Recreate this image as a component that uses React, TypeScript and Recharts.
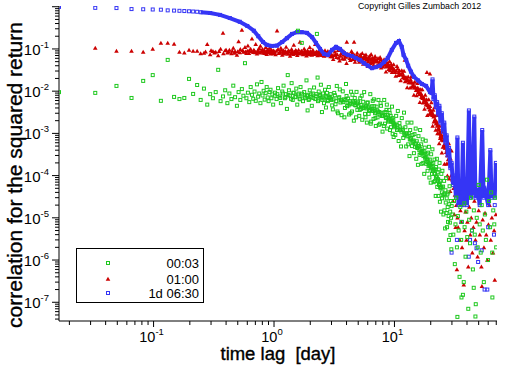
import React from "react";
import { ScatterChart, Scatter, XAxis, YAxis } from "recharts";

type Pt = [number, number];

// lag [day] vs correlation
const greenPts: Pt[] = [
  [0.0164, 0.0095], [0.0328, 0.0091], [0.0492, 0.0133], [0.0656, 0.0069], [0.082, 0.0175], [0.0984, 0.024],
  [0.115, 0.0059], [0.131, 0.055], [0.148, 0.0073], [0.164, 0.0065], [0.18, 0.0069], [0.197, 0.0195],
  [0.213, 0.0086], [0.23, 0.014],
  [0.246, 0.0062], [0.262, 0.0115], [0.279, 0.0048], [0.295, 0.0085], [0.311, 0.0068], [0.328, 0.0095],
  [0.344, 0.032], [0.36, 0.0058], [0.377, 0.0075], [0.393, 0.0105], [0.41, 0.0052], [0.426, 0.0088],
  [0.443, 0.0065], [0.459, 0.0135], [0.475, 0.0072], [0.492, 0.0045], [0.508, 0.0095], [0.525, 0.0062],
  [0.541, 0.0112], [0.557, 0.0078], [0.574, 0.046], [0.59, 0.0068], [0.607, 0.0092], [0.623, 0.0055],
  [0.64, 0.0125], [0.656, 0.0082], [0.672, 0.0066], [0.689, 0.0098], [0.705, 0.0059], [0.722, 0.0145],
  [0.738, 0.0074], [0.754, 0.0088], [0.771, 0.0052], [0.787, 0.0165], [0.803, 0.0079], [0.82, 0.0102],
  [0.836, 0.0063], [0.853, 0.0091], [0.869, 0.0125], [0.886, 0.0071], [0.902, 0.0058], [0.918, 0.0095],
  [0.935, 0.0108], [0.951, 0.0068], [0.968, 0.0084], [0.984, 0.0048],
  [1.02, 0.0092], [1.05, 0.0065], [1.08, 0.0118], [1.11, 0.0075], [1.14, 0.0052], [1.17, 0.0098],
  [1.2, 0.0135], [1.23, 0.0068], [1.26, 0.0085], [1.28, 0.0038], [1.3, 0.024], [1.33, 0.0105],
  [1.36, 0.0078], [1.4, 0.0155], [1.43, 0.0062], [1.46, 0.0092], [1.5, 0.0072], [1.53, 0.0115],
  [1.56, 0.0048], [1.58, 0.27], [1.6, 0.0088], [1.63, 0.0066], [1.66, 0.0125], [1.7, 0.139], [1.72, 0.0079],
  [1.74, 0.0058], [1.78, 0.0095], [1.82, 0.0068], [1.86, 0.018], [1.9, 0.0035], [1.92, 0.0082], [1.94, 0.0062],
  [1.98, 0.0105], [2.02, 0.0072], [2.06, 0.0045], [2.1, 0.0088], [2.15, 0.0122], [2.2, 0.0065], [2.25, 0.0085],
  [2.27, 0.227], [2.3, 0.021], [2.32, 0.0058], [2.35, 0.0098], [2.4, 0.0076], [2.45, 0.0142], [2.5, 0.0032],
  [2.52, 0.0062], [2.55, 0.0088], [2.6, 0.0052], [2.65, 0.0108], [2.7, 0.0041], [2.72, 0.0072], [2.75, 0.0091],
  [2.8, 0.0058], [2.85, 0.0125], [2.9, 0.0069], [2.95, 0.0085],
  [1.015, 0.0078], [1.065, 0.0085], [1.125, 0.0069], [1.185, 0.0088], [1.245, 0.0072], [1.315, 0.0081],
  [1.385, 0.0066], [1.445, 0.0091], [1.515, 0.0074], [1.585, 0.0083], [1.65, 0.0064], [1.71, 0.0087],
  [1.8, 0.0071], [1.88, 0.0078], [1.96, 0.0066], [2.04, 0.0084], [2.12, 0.0069], [2.22, 0.0076],
  [2.34, 0.0063], [2.42, 0.0081], [2.48, 0.0071], [2.58, 0.0067], [2.68, 0.0078], [2.78, 0.0062],
  [2.88, 0.0074], [2.98, 0.0066],
  [3.0, 0.0062], [3.04, 0.0046], [3.08, 0.0037], [3.16, 0.0091], [3.2, 0.008], [3.24, 0.0049], [3.32, 0.0133],
  [3.36, 0.0033], [3.4, 0.003], [3.48, 0.0072], [3.52, 0.011], [3.56, 0.0054], [3.64, 0.0027], [3.68, 0.006],
  [3.72, 0.0099], [3.8, 0.0064], [3.84, 0.0024], [3.88, 0.004], [3.96, 0.0148], [4.0, 0.0077], [4.04, 0.0044],
  [4.12, 0.0067], [4.16, 0.0046], [4.2, 0.0028], [4.28, 0.0051], [4.32, 0.003], [4.36, 0.0097], [4.44, 0.0033],
  [4.48, 0.0082], [4.52, 0.0058], [4.6, 0.002], [4.64, 0.0054], [4.68, 0.0069], [4.76, 0.0046], [4.8, 0.0024],
  [4.84, 0.0096], [4.92, 0.0036], [4.96, 0.0057], [5.0, 0.0054], [5.1, 0.0026], [5.15, 0.0036], [5.2, 0.0068],
  [5.3, 0.0038], [5.35, 0.0078], [5.4, 0.0021], [5.5, 0.0056], [5.55, 0.004], [5.6, 0.0095], [5.7, 0.0029],
  [5.75, 0.0024], [5.8, 0.0043], [5.9, 0.0018], [5.95, 0.0053], [6.0, 0.0054], [6.1, 0.0029], [6.15, 0.0034],
  [6.2, 0.0043], [6.3, 0.0085], [6.35, 0.0017], [6.4, 0.0019], [6.5, 0.0035], [6.55, 0.0044], [6.6, 0.0059],
  [6.7, 0.0022], [6.75, 0.0064], [6.8, 0.0044], [6.9, 0.003], [6.95, 0.0023], [7.0, 0.0015], [7.12, 0.0043],
  [7.18, 0.0035], [7.24, 0.0024], [7.36, 0.0062], [7.42, 0.0016], [7.48, 0.0032], [7.6, 0.0017], [7.66, 0.0052],
  [7.72, 0.0045], [7.84, 0.0026], [7.9, 0.0026], [7.96, 0.0011], [8.1, 0.0031], [8.16, 0.0015], [8.22, 0.0062],
  [8.34, 0.0017], [8.4, 0.0032], [8.46, 0.0024], [8.58, 0.0036], [8.64, 0.0048], [8.7, 0.0013], [8.82, 0.0027],
  [8.88, 0.0019], [8.94, 0.002], [9.06, 0.0036], [9.12, 0.003], [9.18, 0.0012], [9.3, 0.0026], [9.36, 0.0014],
  [9.42, 0.0019], [9.54, 0.0043], [9.6, 0.0023], [9.66, 0.00098], [9.78, 0.0021], [9.84, 0.00082], [9.9, 0.0014],
  [3.12, 0.0064], [3.28, 0.0058], [3.44, 0.0068], [3.6, 0.0061], [3.76, 0.0055], [3.92, 0.0062], [4.08, 0.0053],
  [4.24, 0.0058], [4.4, 0.0049], [4.56, 0.0054], [4.72, 0.0047], [4.88, 0.0051], [5.05, 0.0044], [5.25, 0.0047],
  [5.45, 0.0041], [5.65, 0.0044], [5.85, 0.0039], [6.05, 0.0041], [6.25, 0.0036], [6.45, 0.0038], [6.65, 0.0034],
  [6.85, 0.0035], [7.06, 0.0031], [7.3, 0.0033], [7.54, 0.0028], [7.78, 0.003], [8.04, 0.0026], [8.28, 0.0027],
  [8.52, 0.0023], [8.76, 0.0024], [9.0, 0.0021], [9.24, 0.0022], [9.48, 0.0019], [9.72, 0.0018], [9.96, 0.0016],
  [10.0, 0.0017], [10.16, 0.00092], [10.33, 0.0026], [10.5, 0.0012], [10.66, 0.0034], [10.83, 0.00066],
  [11.0, 0.00175], [11.16, 0.0012], [11.33, 0.00049], [11.5, 0.0023], [11.66, 0.0013], [11.83, 0.00078],
  [12.0, 0.0031], [12.16, 0.00091], [12.33, 0.0014], [12.5, 0.00049], [12.66, 0.001], [12.83, 0.0018],
  [13.0, 0.00055], [13.16, 0.001], [13.33, 0.00029], [13.5, 0.0012], [13.66, 0.00072], [13.83, 0.0018],
  [14.0, 0.0005], [14.16, 0.00091], [14.33, 0.00065], [14.5, 0.00034], [14.66, 0.00096], [14.83, 0.00048],
  [15.0, 0.0013], [15.16, 0.00025], [15.33, 0.00065], [15.5, 0.00045], [15.66, 0.00018], [15.83, 0.00086],
  [16.0, 0.0005], [16.16, 0.00031], [16.33, 0.0012], [16.5, 0.00034], [16.66, 0.00055], [16.83, 0.00019],
  [17.0, 0.00038], [17.16, 0.00072], [17.33, 0.0002], [17.5, 0.00038], [17.66, 0.00011], [17.83, 0.00046],
  [18.0, 0.00027], [18.16, 0.00067], [18.33, 0.00019], [18.5, 0.00033], [18.66, 0.00024], [18.83, 0.00013],
  [19.0, 0.00035], [19.16, 0.00017], [19.33, 0.00048], [19.5, 0.00009], [19.66, 0.00024], [19.83, 0.00017],
  [20.0, 0.000068], [20.16, 0.00032], [20.33, 0.00019], [20.5, 0.00011], [20.66, 0.00042], [20.83, 0.00013],
  [21.0, 0.0002], [21.16, 0.00007], [21.33, 0.00014], [21.5, 0.00024], [21.66, 0.000074], [21.83, 0.00014],
  [22.0, 0.000033], [22.16, 0.00016], [22.33, 0.000095], [22.5, 0.00025], [22.66, 0.000054], [22.83, 0.00012],
  [23.0, 0.000082], [23.16, 0.000033], [23.33, 0.00014], [23.5, 0.00006], [23.66, 0.0002], [23.83, 0.000024],
  [24.0, 0.000075], [24.16, 0.000054], [24.33, 0.000014], [24.5, 0.00011], [24.66, 0.000053], [24.83, 0.000029],
  [25.0, 0.00013], [25.16, 0.000034], [25.33, 0.000055], [25.5, 0.000012], [25.66, 0.000036], [25.83, 0.000075],
  [26.0, 0.000015], [26.16, 0.000036], [26.33, 0.0000056], [26.5, 0.000045], [26.66, 0.000023], [26.83, 0.000088],
  [27.0, 0.000013], [27.16, 0.000029], [27.33, 0.000006], [27.5, 0.000036], [27.66, 0.000018], [27.83, 0.000008],
  [28.0, 0.00004], [28.16, 0.000011], [28.33, 0.000003], [28.5, 0.000021], [28.66, 0.000056], [28.83, 0.0000077],
  [29.0, 0.000014], [29.16, 0.0000039], [29.33, 0.000025], [29.5, 0.00001], [29.66, 0.0000018], [29.83, 0.000019],
  [10.08, 0.0015], [10.41, 0.0016], [10.75, 0.0013], [11.08, 0.0014], [11.41, 0.0011], [11.75, 0.0012],
  [12.08, 0.00098], [12.41, 0.001], [12.75, 0.00085], [13.08, 0.00088], [13.41, 0.00072], [13.75, 0.00078],
  [14.08, 0.00063], [14.41, 0.00068], [14.75, 0.00055], [15.08, 0.00058], [15.41, 0.00047], [15.75, 0.0005],
  [16.08, 0.0004], [16.41, 0.00043], [16.75, 0.00034], [17.08, 0.00036], [17.41, 0.00029], [17.75, 0.00031],
  [18.08, 0.00025], [18.41, 0.00027], [18.75, 0.00021], [19.08, 0.00023], [19.41, 0.00018], [19.75, 0.00019],
  [20.08, 0.00015], [20.41, 0.00016], [20.75, 0.00013], [21.08, 0.00013], [21.41, 0.00011], [21.75, 0.00011],
  [22.08, 0.00009], [22.41, 0.000095], [22.75, 0.000075], [23.08, 0.00008], [23.41, 0.000062], [23.75, 0.000065],
  [24.08, 0.00005], [24.41, 0.000052], [24.75, 0.00004],
  [30.3, 0.000012], [30.8, 0.000004], [31.2, 0.000025], [31.7, 0.0000008], [32.1, 0.000007], [32.6, 0.00003],
  [33.0, 0.000002], [33.3, 0.000000045], [33.6, 0.000011], [34.1, 0.000005], [34.7, 0.0000004], [35.2, 0.000018],
  [35.8, 0.000003], [36.0, 0.00000013], [36.3, 0.000008], [37.0, 0.00000015], [37.6, 0.0000003], [38.0, 0.000022],
  [38.2, 0.000006], [38.9, 0.0000012], [39.5, 0.000014], [40.2, 0.0000035], [41.0, 0.00000007], [41.7, 0.000009],
  [42.4, 0.0000025], [43.2, 0.00003], [44.0, 0.000005], [44.8, 0.0000006], [45.5, 0.00000022], [45.6, 0.000015],
  [46.4, 0.000004], [47.0, 0.000000046], [47.3, 0.00000009], [48.2, 0.00001], [49.1, 0.000002], [50.0, 0.00006],
  [51.0, 0.000007], [52.0, 0.0000015], [53.0, 0.00002], [54.1, 0.000005], [55.2, 0.0000003], [56.3, 0.000012],
  [57.4, 0.000003], [58.6, 0.00008], [59.8, 0.000001], [61.0, 0.000025], [62.2, 0.000006], [63.5, 0.00004],
  [64.8, 0.0000015], [65.0, 0.00000013], [66.1, 0.000015], [67.4, 0.000007], [68.7, 0.00003], [69.9, 0.000002],
];

const redPts: Pt[] = [
  [0.0328, 0.106], [0.0492, 0.09], [0.0656, 0.09], [0.082, 0.085], [0.0984, 0.1], [0.115, 0.139],
  [0.131, 0.139], [0.148, 0.131], [0.164, 0.085], [0.18, 0.081], [0.197, 0.095], [0.213, 0.09], [0.23, 0.09],
  [0.246, 0.078], [0.262, 0.08], [0.279, 0.13], [0.295, 0.074], [0.311, 0.088], [0.328, 0.085], [0.344, 0.07],
  [0.36, 0.1], [0.377, 0.24], [0.393, 0.092], [0.41, 0.082], [0.426, 0.095], [0.443, 0.078], [0.459, 0.105],
  [0.475, 0.088], [0.492, 0.072], [0.508, 0.15], [0.525, 0.098], [0.541, 0.28], [0.557, 0.085], [0.574, 0.11],
  [0.59, 0.079], [0.607, 0.12], [0.623, 0.092], [0.64, 0.1], [0.656, 0.175], [0.672, 0.084], [0.689, 0.09],
  [0.705, 0.13], [0.722, 0.077], [0.738, 0.095], [0.754, 0.104], [0.771, 0.118], [0.787, 0.086], [0.803, 0.098],
  [0.82, 0.08], [0.836, 0.092], [0.853, 0.11], [0.869, 0.075], [0.886, 0.096], [0.902, 0.086], [0.918, 0.105],
  [0.935, 0.082], [0.951, 0.094], [0.968, 0.088], [0.984, 0.078],
  [0.27, 0.086], [0.3, 0.092], [0.32, 0.081], [0.35, 0.089], [0.38, 0.078], [0.4, 0.094], [0.42, 0.085],
  [0.45, 0.09], [0.47, 0.08], [0.5, 0.087], [0.52, 0.083], [0.55, 0.093], [0.58, 0.086], [0.6, 0.09],
  [0.62, 0.079], [0.65, 0.088], [0.68, 0.095], [0.7, 0.083], [0.73, 0.089], [0.76, 0.081], [0.79, 0.092],
  [0.81, 0.085], [0.84, 0.079], [0.87, 0.088], [0.89, 0.083], [0.92, 0.09], [0.94, 0.077], [0.97, 0.085], [0.99, 0.091],
  [1.0, 0.088], [1.03, 0.074], [1.06, 0.27], [1.08, 0.098], [1.11, 0.081], [1.14, 0.105], [1.17, 0.072],
  [1.2, 0.092], [1.23, 0.084], [1.26, 0.112], [1.3, 0.076], [1.33, 0.09], [1.36, 0.068], [1.4, 0.099],
  [1.43, 0.083], [1.46, 0.125], [1.5, 0.078], [1.53, 0.088], [1.56, 0.071], [1.6, 0.095], [1.64, 0.146],
  [1.66, 0.08], [1.7, 0.09], [1.74, 0.074], [1.78, 0.102], [1.82, 0.084], [1.86, 0.069], [1.9, 0.092],
  [1.94, 0.078], [1.98, 0.11], [2.02, 0.082], [2.06, 0.072], [2.1, 0.094], [2.15, 0.079], [2.2, 0.13],
  [2.25, 0.086], [2.3, 0.07], [2.35, 0.09], [2.4, 0.077], [2.45, 0.098], [2.5, 0.074], [2.55, 0.085],
  [2.6, 0.068], [2.65, 0.092], [2.7, 0.078], [2.75, 0.071], [2.8, 0.088], [2.85, 0.075], [2.9, 0.082], [2.95, 0.066],
  [1.01, 0.083], [1.045, 0.09], [1.095, 0.079], [1.125, 0.087], [1.155, 0.094], [1.185, 0.082], [1.215, 0.077],
  [1.245, 0.088], [1.28, 0.081], [1.315, 0.092], [1.345, 0.085], [1.38, 0.078], [1.415, 0.089], [1.445, 0.075],
  [1.48, 0.086], [1.515, 0.093], [1.545, 0.08], [1.58, 0.083], [1.62, 0.077], [1.68, 0.088], [1.72, 0.082],
  [1.76, 0.079], [1.8, 0.091], [1.84, 0.076], [1.88, 0.085], [1.92, 0.081], [1.96, 0.074], [2.0, 0.089],
  [2.04, 0.078], [2.08, 0.083], [2.12, 0.086], [2.18, 0.075], [2.22, 0.081], [2.28, 0.078], [2.32, 0.084],
  [2.38, 0.072], [2.42, 0.083], [2.48, 0.079], [2.52, 0.071], [2.58, 0.08], [2.62, 0.076], [2.68, 0.083],
  [2.72, 0.07], [2.78, 0.078], [2.82, 0.074], [2.88, 0.081], [2.92, 0.072], [2.98, 0.077],
  [3.0, 0.072], [3.05, 0.066], [3.1, 0.057], [3.2, 0.086], [3.25, 0.075], [3.3, 0.064], [3.4, 0.093], [3.45, 0.061],
  [3.5, 0.053], [3.6, 0.077], [3.65, 0.082], [3.7, 0.059], [3.8, 0.087], [3.85, 0.058], [3.9, 0.066], [4.0, 0.046],
  [4.02, 0.146], [4.05, 0.072], [4.1, 0.076], [4.2, 0.069], [4.25, 0.06], [4.3, 0.054], [4.4, 0.089], [4.45, 0.079],
  [4.5, 0.057], [4.6, 0.074], [4.62, 0.146], [4.65, 0.057], [4.7, 0.049], [4.8, 0.063], [4.85, 0.068], [4.9, 0.08],
  [5.0, 0.061], [5.05, 0.055], [5.1, 0.049], [5.2, 0.073], [5.25, 0.066], [5.3, 0.055], [5.4, 0.079], [5.45, 0.052],
  [5.5, 0.044], [5.6, 0.064], [5.65, 0.07], [5.7, 0.049], [5.8, 0.073], [5.85, 0.06], [5.9, 0.055], [6.0, 0.039],
  [6.05, 0.05], [6.1, 0.064], [6.2, 0.059], [6.25, 0.068], [6.3, 0.046], [6.4, 0.075], [6.45, 0.055], [6.5, 0.048],
  [6.6, 0.062], [6.65, 0.047], [6.7, 0.041], [6.8, 0.052], [6.85, 0.058], [6.9, 0.067], [7.0, 0.05], [7.08, 0.055],
  [7.15, 0.04], [7.3, 0.06], [7.38, 0.043], [7.45, 0.045], [7.6, 0.064], [7.68, 0.057], [7.75, 0.036], [7.9, 0.052],
  [7.98, 0.044], [8.05, 0.038], [8.2, 0.056], [8.28, 0.05], [8.35, 0.042], [8.5, 0.029], [8.58, 0.038], [8.65, 0.048],
  [8.8, 0.043], [8.88, 0.045], [8.95, 0.033], [9.1, 0.051], [9.18, 0.031], [9.25, 0.034], [9.4, 0.044], [9.48, 0.039],
  [9.55, 0.028], [9.7, 0.035], [9.78, 0.03], [9.85, 0.043],
  [3.15, 0.071], [3.35, 0.074], [3.55, 0.068], [3.75, 0.072], [3.95, 0.065], [4.15, 0.07], [4.35, 0.066],
  [4.55, 0.069], [4.75, 0.062], [4.95, 0.066], [5.15, 0.061], [5.35, 0.064], [5.55, 0.059], [5.75, 0.062],
  [5.95, 0.057], [6.15, 0.06], [6.35, 0.055], [6.55, 0.058], [6.75, 0.052], [6.95, 0.055], [7.22, 0.051],
  [7.52, 0.049], [7.82, 0.046], [8.12, 0.044], [8.42, 0.043], [8.72, 0.04], [9.02, 0.039], [9.32, 0.037],
  [9.62, 0.034], [9.92, 0.033],
  [10.0, 0.032], [10.12, 0.028], [10.25, 0.023], [10.5, 0.039], [10.62, 0.034], [10.75, 0.024], [11.0, 0.031],
  [11.12, 0.025], [11.25, 0.018], [11.5, 0.031], [11.62, 0.027], [11.75, 0.021], [12.0, 0.03], [12.12, 0.02],
  [12.2, 0.055], [12.25, 0.017], [12.5, 0.021], [12.62, 0.018], [12.75, 0.0123], [13.0, 0.022], [13.12, 0.016],
  [13.25, 0.016], [13.5, 0.012], [13.62, 0.019], [13.75, 0.022], [14.0, 0.0128], [14.12, 0.013], [14.25, 0.0157],
  [14.5, 0.0081], [14.62, 0.012], [14.75, 0.0166], [15.0, 0.012], [15.12, 0.0105], [15.25, 0.0079], [15.5, 0.0155],
  [15.62, 0.012], [15.75, 0.0093], [16.0, 0.011], [16.12, 0.0085], [16.25, 0.0055], [16.5, 0.011], [16.62, 0.0088],
  [16.75, 0.0072], [17.0, 0.011], [17.12, 0.0068], [17.25, 0.0053], [17.5, 0.0071], [17.62, 0.0063], [17.75, 0.0038],
  [18.0, 0.0081], [18.12, 0.0055], [18.25, 0.0048], [18.5, 0.0064], [18.6, 0.028], [18.62, 0.0049], [18.75, 0.0027],
  [19.0, 0.0047], [19.12, 0.0041], [19.25, 0.0064], [19.5, 0.0029], [19.62, 0.0037], [19.7, 0.026], [19.75, 0.0044],
  [20.0, 0.0029], [20.12, 0.0033], [20.25, 0.0054], [20.5, 0.0031], [20.62, 0.0027], [20.75, 0.0015], [21.0, 0.0036],
  [21.12, 0.0025], [21.25, 0.0019], [21.5, 0.0041], [21.62, 0.0021], [21.75, 0.002], [22.0, 0.0012], [22.12, 0.0017],
  [22.25, 0.0027], [22.5, 0.0018], [22.62, 0.0015], [22.75, 0.001], [23.0, 0.0027], [23.12, 0.0013], [23.25, 0.0012],
  [23.5, 0.00058], [23.62, 0.001], [23.75, 0.0015], [24.0, 0.00077], [24.12, 0.00085], [24.25, 0.002], [24.5, 0.00091],
  [24.62, 0.0007], [24.75, 0.00035], [25.0, 0.0011], [25.25, 0.00048], [25.5, 0.0013], [25.75, 0.00049],
  [26.0, 0.00019], [26.25, 0.00076], [26.5, 0.00046], [26.75, 0.00089], [27.0, 0.00019], [27.25, 0.00041],
  [27.5, 0.0001], [27.75, 0.00047], [28.0, 0.0002], [28.25, 0.00058], [28.5, 0.000084], [28.75, 0.00021],
  [29.0, 0.000043], [29.25, 0.00025], [29.5, 0.0001], [29.75, 0.00039],
  [10.37, 0.03], [10.87, 0.028], [11.37, 0.025], [11.87, 0.024], [12.37, 0.021], [12.87, 0.019], [13.37, 0.017],
  [13.87, 0.016], [14.37, 0.0138], [14.87, 0.0126], [15.37, 0.0108], [15.87, 0.0098], [16.37, 0.0088],
  [16.87, 0.0079], [17.37, 0.0069], [17.87, 0.006], [18.37, 0.0056], [18.87, 0.0046], [19.37, 0.0044],
  [19.87, 0.0036], [20.37, 0.0033], [20.87, 0.0028], [21.37, 0.0026], [21.87, 0.0021], [22.37, 0.0019],
  [22.87, 0.0016], [23.37, 0.0013], [23.87, 0.0011], [24.37, 0.00095], [24.87, 0.0008], [25.37, 0.00068],
  [25.87, 0.00055], [26.37, 0.00045], [26.87, 0.00036], [27.37, 0.0003], [27.87, 0.00024],
  [30.2, 0.00008], [30.6, 0.000025], [31.0, 0.00005], [31.4, 0.000012], [31.8, 0.000035], [32.2, 0.000006],
  [32.6, 0.00002], [33.0, 0.0000006], [33.4, 0.00001], [33.8, 0.000006], [34.3, 0.00003], [34.8, 0.000003],
  [35.3, 0.000015], [35.8, 0.000008], [36.4, 0.000002], [37.0, 0.000022], [37.6, 0.00000026], [38.2, 0.000005],
  [38.9, 0.000014], [39.6, 0.000003], [40.3, 0.000008], [41.0, 0.0000007], [41.8, 0.000018], [42.6, 0.000004],
  [43.4, 0.00001], [44.3, 0.0000015], [45.2, 0.000006], [46.1, 0.000025], [47.0, 0.000003], [48.0, 0.000008],
  [49.0, 0.0000012], [50.0, 0.000015], [51.1, 0.000004], [52.7, 0.0000007], [53.2, 0.00000024], [54.0, 0.000009],
  [55.3, 0.000002], [56.5, 0.000013], [57.8, 0.000004], [59.0, 0.000001], [60.3, 0.000007], [61.6, 0.00002],
  [63.0, 0.000003], [64.4, 0.00001], [65.8, 0.0000015], [67.2, 0.000005], [68.0, 0.00000034], [69.5, 0.000012],
];

// 1d 06:30: isolated squares at short lags, then a dense (line-like) curve
const blueEarly: Pt[] = [
  [0.0164, 0.99], [0.0328, 0.94], [0.0492, 0.93], [0.0656, 0.88], [0.082, 0.87], [0.0984, 0.86],
  [0.115, 0.85], [0.131, 0.82], [0.148, 0.81], [0.164, 0.8], [0.18, 0.79], [0.197, 0.78], [0.213, 0.77],
  [0.23, 0.76],
];

const blueCurve: Pt[] = [
  [0.246, 0.74], [0.295, 0.71], [0.356, 0.64], [0.43, 0.54], [0.52, 0.44], [0.6, 0.35], [0.68, 0.27],
  [0.74, 0.2], [0.81, 0.146], [0.87, 0.125], [0.96, 0.117], [1.06, 0.12], [1.17, 0.146], [1.28, 0.18],
  [1.41, 0.227], [1.55, 0.25], [1.7, 0.25], [1.88, 0.24], [2.07, 0.19], [2.23, 0.139], [2.41, 0.1],
  [2.6, 0.076], [2.8, 0.072], [3.03, 0.095], [3.27, 0.112], [3.53, 0.1], [3.81, 0.08], [4.1, 0.072],
  [4.43, 0.068], [4.78, 0.061], [5.17, 0.055], [5.58, 0.046], [6.03, 0.04], [6.5, 0.035], [7.0, 0.037],
  [7.58, 0.04], [8.2, 0.049], [8.8, 0.061], [9.5, 0.095], [10.3, 0.139], [10.9, 0.154], [11.5, 0.112],
  [11.9, 0.072], [12.5, 0.055], [13.0, 0.04], [13.7, 0.029], [14.5, 0.022], [15.7, 0.018], [16.9, 0.0148],
  [18.3, 0.0133], [19.7, 0.0095], [20.3, 0.009], [20.7, 0.019], [21.1, 0.0065], [21.6, 0.008], [22.1, 0.0042],
  [22.6, 0.0055], [23.1, 0.0028], [23.6, 0.0045], [24.1, 0.0018], [24.7, 0.003], [25.3, 0.0011], [25.9, 0.0018],
  [26.5, 0.0006], [27.1, 0.0009], [27.7, 0.0003], [28.4, 0.00045], [29.1, 0.00015], [29.8, 0.0002],
  [30.6, 0.00006], [31.5, 0.0001], [32.4, 0.00003], [33.3, 0.0008], [34.0, 0.00002], [35.0, 0.00004],
  [36.0, 0.00002], [37.0, 0.0006], [37.8, 0.00002], [39.0, 0.00003], [40.0, 0.00002], [41.5, 0.0035],
  [42.5, 0.00003], [44.0, 0.00004], [46.0, 0.0025], [47.0, 0.00003], [49.0, 0.00005], [51.0, 0.00002],
  [53.5, 0.0012], [55.0, 0.00003], [57.0, 0.00004], [60.0, 0.00002], [62.5, 0.0004], [64.0, 0.00003],
  [66.0, 0.00005], [68.0, 0.00003], [69.5, 0.0002],
];

const blueScatter: Pt[] = [
  [29.8, 0.0000015], [33.0, 0.000003], [36.0, 0.000008], [41.4, 0.0000012], [42.4, 0.000003], [44.0, 0.000005],
  [46.5, 0.0000025], [48.0, 0.0000019], [49.5, 0.0000009], [53.0, 0.0000017], [56.0, 0.0000002], [59.0, 0.0000002],
  [60.0, 0.000006], [64.0, 0.000055], [67.0, 0.000004], [68.0, 0.00002],
];

const seriesNames = ["00:03", "01:00", "1d 06:30"];

const xTicks = [
  0.02, 0.03, 0.04, 0.05, 0.06, 0.07, 0.08, 0.09, 0.1, 0.2, 0.3, 0.4, 0.5, 0.6, 0.7, 0.8, 0.9,
  1, 2, 3, 4, 5, 6, 7, 8, 9, 10, 20, 30, 40, 50, 60, 70,
];
const yDecades = [1e-8, 1e-7, 1e-6, 1e-5, 1e-4, 1e-3, 1e-2, 1e-1];
const yTicks = [
  ...yDecades.flatMap((d) => [1, 2, 3, 4, 5, 6, 7, 8, 9].map((m) => m * d)).filter((v) => v > 3.7e-8),
  1,
];

const GREEN = "#1ec81e";
const RED = "#cc0000";
const BLUE = "#3535f5";
const FONT = "'Liberation Sans', Arial, sans-serif";

const toPts = (a: Pt[]) => a.map(([x, y]) => ({ x, y }));

const exponentOf = (v: number) => {
  const l = Math.log10(v);
  const e = Math.round(l);
  return Math.abs(l - e) < 1e-6 ? e : null;
};

const XTick = (props: any) => {
  const { x, y, payload } = props;
  const e = exponentOf(payload.value);
  return (
    <g>
      <line x1={x} x2={x} y1={y} y2={y + (e !== null ? 6 : 4)} stroke="#000" />
      {e !== null && (
        <text x={x - 2} y={y + 21} textAnchor="middle" fontSize={14.5} fontFamily={FONT} fill="#000">
          10<tspan fontSize={9.5} dy={-7}>{e}</tspan>
        </text>
      )}
    </g>
  );
};

const YTick = (props: any) => {
  const { x, y, payload } = props;
  const e = exponentOf(payload.value);
  return (
    <g>
      <line x1={x} x2={x - (e !== null ? 7 : 4)} y1={y} y2={y} stroke="#000" />
      {e !== null && e !== 0 && (
        <text x={x - 10} y={y + 6} textAnchor="end" fontSize={15} fontFamily={FONT} fill="#000">
          10<tspan fontSize={9.5} dy={-7}>{e}</tspan>
        </text>
      )}
    </g>
  );
};

const square = (color: string) => (p: any) => (
  <rect x={p.cx - 1.5} y={p.cy - 1.5} width={3} height={3} fill="none" stroke={color} strokeWidth={1} />
);
const triangle = (color: string) => (p: any) => (
  <path d={`M${p.cx},${p.cy - 2.2}L${p.cx + 2.3},${p.cy + 1.8}L${p.cx - 2.3},${p.cy + 1.8}Z`} fill={color} />
);

export default function App() {
  const legendColors = [GREEN, RED, BLUE];
  return (
    <div style={{ position: "absolute", left: 0, top: 0, width: 512, height: 366, background: "#fff" }}>
      <ScatterChart width={512} height={366} margin={{ top: 6, right: 15, bottom: 5, left: 9 }}>
        <XAxis
          type="number"
          dataKey="x"
          scale="log"
          domain={[0.0164, 71]}
          allowDataOverflow
          ticks={xTicks}
          interval={0}
          tickLine={false}
          tickSize={0}
          tickMargin={0}
          tick={<XTick />}
          height={40}
          axisLine={{ stroke: "#000" }}
        />
        <YAxis
          type="number"
          dataKey="y"
          scale="log"
          domain={[3.6e-8, 1.04]}
          allowDataOverflow
          ticks={yTicks}
          interval={0}
          tickLine={false}
          tickSize={0}
          tickMargin={0}
          tick={<YTick />}
          width={50}
          axisLine={{ stroke: "#000" }}
        />
        <Scatter data={toPts(redPts)} shape={triangle(RED)} isAnimationActive={false} />
        <Scatter
          data={toPts(blueCurve)}
          line={{ stroke: BLUE, strokeWidth: 4 }}
          lineJointType="linear"
          shape={square(BLUE)}
          isAnimationActive={false}
        />
        <Scatter data={toPts(blueEarly)} shape={square(BLUE)} isAnimationActive={false} />
        <Scatter data={toPts(blueScatter)} shape={square(BLUE)} isAnimationActive={false} />
        <Scatter data={toPts(greenPts)} shape={square(GREEN)} isAnimationActive={false} />
      </ScatterChart>

      <svg width={512} height={366} style={{ position: "absolute", left: 0, top: 0, pointerEvents: "none" }}>
        <text x={358} y={8.5} fontSize={8.8} fontFamily={FONT} fill="#000">
          Copyright Gilles Zumbach 2012
        </text>
        <text
          x={278}
          y={360}
          textAnchor="middle"
          fontSize={17.5}
          fontFamily={FONT}
          fill="#000"
          stroke="#000"
          strokeWidth={0.35}
          textLength={115}
          lengthAdjust="spacingAndGlyphs"
          style={{ whiteSpace: "pre" }}
        >
          time lag  [day]
        </text>
        <text
          x={22}
          y={175}
          textAnchor="middle"
          fontSize={20}
          fontFamily={FONT}
          fill="#000"
          stroke="#000"
          strokeWidth={0.35}
          textLength={306}
          lengthAdjust="spacingAndGlyphs"
          transform="rotate(-90 22 175)"
        >
          correlation for the squared return
        </text>
        <rect x={76.5} y={248.5} width={127} height={54} fill="#fff" stroke="#000" />
        {seriesNames.map((name, i) => {
          const cy = [263, 279, 293][i];
          return (
            <g key={name}>
              {i === 1 ? triangle(legendColors[i])({ cx: 108, cy }) : square(legendColors[i])({ cx: 108, cy })}
              <text x={199} y={cy + 5} textAnchor="end" fontSize={13} fontFamily={FONT} fill="#000">
                {name}
              </text>
            </g>
          );
        })}
      </svg>
    </div>
  );
}
